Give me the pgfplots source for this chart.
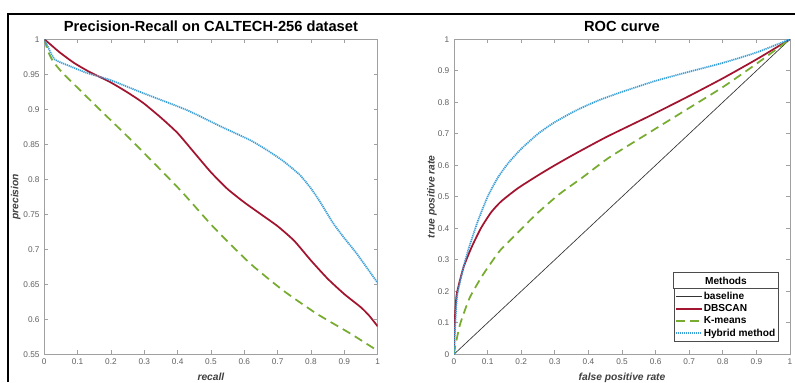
\documentclass[border=0pt]{standalone}
\usepackage{pgfplots}
\pgfplotsset{compat=1.18}
\usepackage{fontspec}
\setmainfont{Liberation Sans}
\usetikzlibrary{calc}
\definecolor{dbred}{HTML}{A2142F}
\definecolor{kmgreen}{HTML}{77AC30}
\definecolor{hyblue}{HTML}{3A9FD6}
\definecolor{axgray}{HTML}{A0A0A0}
\definecolor{tickgray}{HTML}{606060}
\pgfplotsset{
  mystyle/.style={
    scale only axis,
    height=236.25pt,
    axis line style={axgray, line width=0.6pt},
    tick style={axgray, line width=0.5pt},
    tick align=inside,
    major tick length=3pt,
    tick label style={font=\fontsize{6.2}{7}\selectfont, text=tickgray},
    /pgf/number format/assume math mode=true,
    /pgf/number format/fixed,
    /pgf/number format/precision=2,
    xmin=0, xmax=1,
    xtick={0,0.1,0.2,0.3,0.4,0.5,0.6,0.7,0.8,0.9,1},
    title style={font=\bfseries\fontsize{11}{13}\selectfont, at={(0.5,1)}, anchor=base, yshift=0pt},
    label style={font=\bfseries\itshape\fontsize{7.7}{9}\selectfont, text=black!75},
    xlabel style={at={(0.5,0)}, anchor=base, yshift=-19.5pt},
  },
  dbs/.style={dbred, line width=1.3pt, smooth, tension=0.35},
  kms/.style={kmgreen, line width=1.3pt, dash pattern=on 6.5pt off 4pt, smooth, tension=0.35},
  hys/.style={hyblue, line width=1.3pt, dash pattern=on 0.9pt off 0.6pt, smooth, tension=0.35},
  bls/.style={black!80, line width=0.5pt},
}
\begin{document}
\begin{tikzpicture}
\useasboundingbox (0,0) rectangle (596.25pt,286.5pt);
\fill[white] (0,0) rectangle (596.25pt,286.5pt);
\draw[line width=1.5pt] (6pt,0) -- (6pt,276pt) -- (596.25pt,276pt);
% ---------------- left: precision-recall ----------------
\begin{axis}[mystyle,
  at={(33.2pt,20.8pt)}, anchor=south west,
  width=250pt,
  ymin=0.55, ymax=1,
  ytick={0.55,0.6,0.65,0.7,0.75,0.8,0.85,0.9,0.95,1},
  title={Precision-Recall on CALTECH-256 dataset},
  xlabel={recall}, ylabel={precision},
  ylabel style={at={(axis description cs:-0.078,0.5)}, anchor=base},
]
\addplot[kms] coordinates {(0,1) (0.012,0.982) (0.027,0.968) (0.057,0.951) (0.157,0.904) (0.267,0.853) (0.407,0.785) (0.507,0.732) (0.617,0.68) (0.717,0.641) (0.817,0.608) (0.917,0.58) (1,0.555)};
\addplot[dbs] coordinates {(0,1) (0.02,0.992) (0.047,0.981) (0.09,0.966) (0.137,0.953) (0.197,0.939) (0.25,0.924) (0.297,0.909) (0.35,0.888) (0.4,0.866) (0.45,0.838) (0.5,0.81) (0.55,0.786) (0.6,0.767) (0.65,0.75) (0.7,0.733) (0.75,0.712) (0.8,0.684) (0.85,0.658) (0.9,0.636) (0.95,0.617) (0.975,0.605) (1,0.59)};
\addplot[hys] coordinates {(0,1) (0.012,0.988) (0.032,0.971) (0.08,0.961) (0.127,0.952) (0.197,0.942) (0.297,0.923) (0.427,0.899) (0.527,0.876) (0.617,0.856) (0.667,0.842) (0.717,0.826) (0.767,0.806) (0.8,0.787) (0.827,0.768) (0.867,0.737) (0.9,0.716) (0.937,0.694) (1,0.652)};
\end{axis}
% ---------------- right: ROC ----------------
\begin{axis}[mystyle,
  at={(340.5pt,20.8pt)}, anchor=south west,
  width=252pt,
  ymin=0, ymax=1,
  ytick={0,0.1,0.2,0.3,0.4,0.5,0.6,0.7,0.8,0.9,1},
  title={ROC curve},
  xlabel={false positive rate}, ylabel={true positive rate},
  ylabel style={at={(axis description cs:-0.058,0.5)}, anchor=base},
  legend image code/.code={\draw[#1] (0pt,0pt) -- (19pt,0pt);},
  legend cell align=left,
  legend style={at={(axis cs:0.965,0.040)}, anchor=south east, draw=black!70, line width=0.5pt, fill=white,
    font=\bfseries\fontsize{7.6}{9}\selectfont, inner xsep=1pt, inner ysep=1.5pt, row sep=0.3pt,
    nodes={inner sep=1pt}, name=leg},
]
\addplot[bls] coordinates {(0,0) (1,1)};
\addlegendentry{baseline}
\addplot[dbs] coordinates {(0,0) (0.002,0.1) (0.008,0.19) (0.028,0.275) (0.052,0.339) (0.08,0.4) (0.11,0.45) (0.14,0.485) (0.19,0.527) (0.25,0.568) (0.3,0.6) (0.363,0.638) (0.454,0.69) (0.583,0.757) (0.7,0.82) (0.8,0.876) (0.9,0.936) (1,1)};
\addlegendentry{DBSCAN}
\addplot[kms] coordinates {(0,0) (0.003,0.021) (0.018,0.095) (0.047,0.18) (0.087,0.254) (0.136,0.328) (0.185,0.381) (0.244,0.444) (0.313,0.508) (0.382,0.561) (0.461,0.624) (0.583,0.705) (0.7,0.782) (0.8,0.848) (0.9,0.922) (1,1)};
\addlegendentry{K-means}
\addplot[hys] coordinates {(0,0) (0.002,0.06) (0.005,0.12) (0.01,0.19) (0.028,0.275) (0.042,0.33) (0.07,0.42) (0.1,0.5) (0.13,0.56) (0.16,0.605) (0.2,0.652) (0.25,0.7) (0.3,0.737) (0.365,0.775) (0.43,0.806) (0.5,0.833) (0.6,0.868) (0.7,0.897) (0.8,0.925) (0.9,0.958) (1,1)};
\addlegendentry{Hybrid method}
\end{axis}
\draw[black!70, line width=0.5pt, fill=white] (leg.north west) rectangle ($(leg.north east)+(0,11.8pt)$);
\node[font=\bfseries\fontsize{7.6}{9}\selectfont, anchor=base] at ($(leg.north)+(0,2.8pt)$) {Methods};
\end{tikzpicture}
\end{document}
